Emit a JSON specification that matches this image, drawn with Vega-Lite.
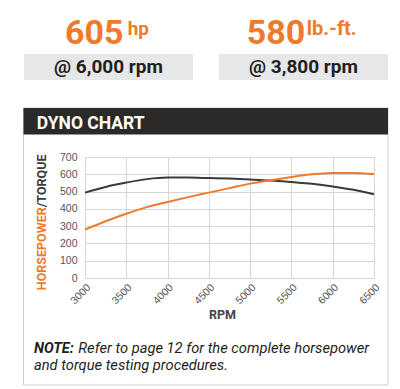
{
  "$schema": "https://vega.github.io/schema/vega-lite/v6.json",
  "width": 289,
  "height": 121,
  "autosize": "none",
  "padding": {"left": 85, "top": 157, "right": 26, "bottom": 111},
  "background": "white",
  "config": {"view": {"stroke": null}},
  "data": {"values": [
    {"rpm": 3000, "series": "Torque", "value": 494},
    {"rpm": 3250, "series": "Torque", "value": 527},
    {"rpm": 3500, "series": "Torque", "value": 552},
    {"rpm": 3750, "series": "Torque", "value": 572},
    {"rpm": 4000, "series": "Torque", "value": 581},
    {"rpm": 4250, "series": "Torque", "value": 581},
    {"rpm": 4500, "series": "Torque", "value": 578},
    {"rpm": 4750, "series": "Torque", "value": 575},
    {"rpm": 5000, "series": "Torque", "value": 570},
    {"rpm": 5250, "series": "Torque", "value": 564},
    {"rpm": 5500, "series": "Torque", "value": 555},
    {"rpm": 5750, "series": "Torque", "value": 545},
    {"rpm": 6000, "series": "Torque", "value": 530},
    {"rpm": 6250, "series": "Torque", "value": 510},
    {"rpm": 6500, "series": "Torque", "value": 484},
    {"rpm": 3000, "series": "Horsepower", "value": 280},
    {"rpm": 3250, "series": "Horsepower", "value": 328},
    {"rpm": 3500, "series": "Horsepower", "value": 372},
    {"rpm": 3750, "series": "Horsepower", "value": 410},
    {"rpm": 4000, "series": "Horsepower", "value": 440},
    {"rpm": 4250, "series": "Horsepower", "value": 468},
    {"rpm": 4500, "series": "Horsepower", "value": 494},
    {"rpm": 4750, "series": "Horsepower", "value": 520},
    {"rpm": 5000, "series": "Horsepower", "value": 546},
    {"rpm": 5250, "series": "Horsepower", "value": 566},
    {"rpm": 5500, "series": "Horsepower", "value": 584},
    {"rpm": 5750, "series": "Horsepower", "value": 600},
    {"rpm": 6000, "series": "Horsepower", "value": 607},
    {"rpm": 6250, "series": "Horsepower", "value": 608},
    {"rpm": 6500, "series": "Horsepower", "value": 601}
  ]},
  "layer": [
    {
      "data": {"values": [{}]},
      "mark": {"type": "rect", "x": -61.5, "x2": 303, "y": -49, "y2": 228, "fill": null, "filled": false, "stroke": "#cfcfcf", "strokeWidth": 1}
    },
    {
      "data": {"values": [{}]},
      "mark": {"type": "rect", "x": -61.5, "x2": 303, "y": -49, "y2": -22.5, "fill": "#2b2a29"}
    },
    {
      "data": {"values": [{}]},
      "mark": {"type": "rect", "x": -61, "x2": 108, "y": -103, "y2": -77, "fill": "#e6e7e8"}
    },
    {
      "data": {"values": [{}]},
      "mark": {"type": "rect", "x": 134, "x2": 303, "y": -103, "y2": -77, "fill": "#e6e7e8"}
    },
    {
      "data": {"values": [{}]},
      "mark": {"type": "text", "text": "605", "x": -20, "y": -113.5, "align": "left", "baseline": "alphabetic", "font": "Roboto", "fontWeight": "bold", "fontSize": 34, "color": "#ef7a2c"}
    },
    {
      "data": {"values": [{}]},
      "mark": {"type": "text", "text": "hp", "x": 42.7, "y": -122, "align": "left", "baseline": "alphabetic", "font": "Roboto", "fontWeight": "bold", "fontSize": 19, "color": "#ef7a2c"}
    },
    {
      "data": {"values": [{}]},
      "mark": {"type": "text", "text": "580", "x": 161.7, "y": -113.5, "align": "left", "baseline": "alphabetic", "font": "Roboto", "fontWeight": "bold", "fontSize": 34, "color": "#ef7a2c"}
    },
    {
      "data": {"values": [{}]},
      "mark": {"type": "text", "text": "lb.-ft.", "x": 221.7, "y": -122, "align": "left", "baseline": "alphabetic", "font": "Roboto", "fontWeight": "bold", "fontSize": 20, "color": "#ef7a2c"}
    },
    {
      "data": {"values": [{}]},
      "mark": {"type": "text", "text": "@ 6,000 rpm", "x": 23.5, "y": -84, "align": "center", "baseline": "alphabetic", "font": "Roboto", "fontWeight": "bold", "fontSize": 19, "color": "#231f20"}
    },
    {
      "data": {"values": [{}]},
      "mark": {"type": "text", "text": "@ 3,800 rpm", "x": 218.5, "y": -84, "align": "center", "baseline": "alphabetic", "font": "Roboto", "fontWeight": "bold", "fontSize": 19, "color": "#231f20"}
    },
    {
      "data": {"values": [{}]},
      "mark": {"type": "text", "text": "DYNO CHART", "x": -48.3, "y": -28.5, "align": "left", "baseline": "alphabetic", "font": "Roboto", "fontWeight": "bold", "fontSize": 17.5, "color": "#ffffff"}
    },
    {
      "data": {"values": [{}]},
      "mark": {"type": "text", "text": "HORSEPOWER", "x": -43.5, "y": 50.3, "angle": -90, "align": "right", "baseline": "middle", "font": "Roboto", "fontWeight": "bold", "fontSize": 12.5, "color": "#ef7a2c"}
    },
    {
      "data": {"values": [{}]},
      "mark": {"type": "text", "text": "/TORQUE", "x": -43.5, "y": 50.3, "angle": -90, "align": "left", "baseline": "middle", "font": "Roboto", "fontWeight": "bold", "fontSize": 12.5, "color": "#3a3a3a"}
    },
    {
      "data": {"values": [{}]},
      "mark": {"type": "text", "text": "NOTE:", "x": -51, "y": 195.6, "align": "left", "baseline": "alphabetic", "font": "Roboto", "fontWeight": "bold", "fontStyle": "italic", "fontSize": 14.5, "color": "#231f20"}
    },
    {
      "data": {"values": [{}]},
      "mark": {"type": "text", "text": "Refer to page 12 for the complete horsepower", "x": -6.7, "y": 195.6, "align": "left", "baseline": "alphabetic", "font": "Roboto", "fontStyle": "italic", "fontSize": 14.7, "color": "#231f20"}
    },
    {
      "data": {"values": [{}]},
      "mark": {"type": "text", "text": "and torque testing procedures.", "x": -51, "y": 212.6, "align": "left", "baseline": "alphabetic", "font": "Roboto", "fontStyle": "italic", "fontSize": 14.7, "color": "#231f20"}
    },
    {
      "mark": {"type": "line", "interpolate": "monotone", "strokeWidth": 2},
      "encoding": {
        "x": {
          "field": "rpm", "type": "quantitative",
          "scale": {"domain": [3000, 6500], "nice": false, "zero": false},
          "axis": {
            "values": [3000, 3500, 4000, 4500, 5000, 5500, 6000, 6500],
            "format": "d",
            "title": "RPM", "titleFont": "Roboto", "titleFontWeight": "bold", "titleFontSize": 12.5, "titleColor": "#444444",
            "titleX": 137, "titleY": 40, "titleBaseline": "alphabetic", "titleAlign": "center", "titleAnchor": null,
            "labelAngle": -45, "labelFont": "Liberation Sans", "labelFontSize": 10.5, "labelColor": "#555555", "labelPadding": 4,
            "domain": false, "ticks": false,
            "grid": true, "gridColor": "#d3d6da", "gridWidth": 1
          }
        },
        "y": {
          "field": "value", "type": "quantitative",
          "scale": {"domain": [0, 700], "nice": false},
          "axis": {
            "values": [0, 100, 200, 300, 400, 500, 600, 700],
            "title": null,
            "labelFont": "Liberation Sans", "labelFontSize": 10.5, "labelColor": "#555555", "labelPadding": 8,
            "domain": false, "ticks": false,
            "grid": true, "gridColor": "#d3d6da", "gridWidth": 1
          }
        },
        "color": {
          "field": "series", "type": "nominal",
          "scale": {"domain": ["Torque", "Horsepower"], "range": ["#3a3a3a", "#ef7a2c"]},
          "legend": null
        }
      }
    }
  ]
}
